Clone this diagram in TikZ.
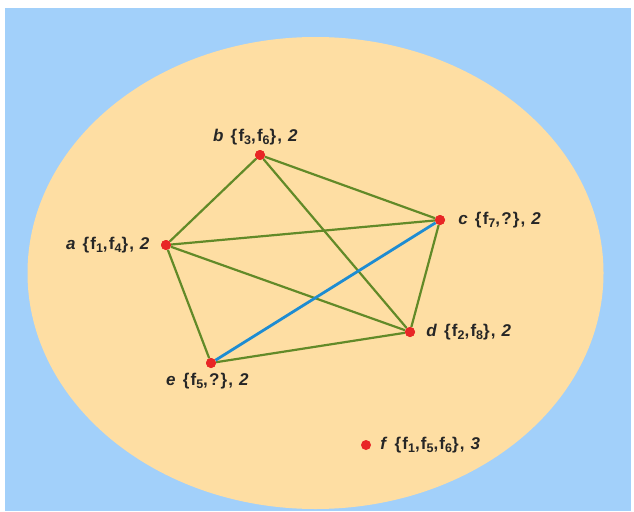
\documentclass[tikz,border=0pt]{standalone}
\usepackage{fontspec}
\setmainfont{Liberation Sans}
\newfontfamily\labelfont[LetterSpace=7]{Liberation Sans}
\usepackage{tikz}
\usetikzlibrary{positioning}
\definecolor{bgblue}{RGB}{162,208,250}
\definecolor{discfill}{RGB}{254,222,163}
\definecolor{edgegreen}{RGB}{98,138,40}
\definecolor{edgeblue}{RGB}{30,140,210}
\definecolor{dotred}{RGB}{232,38,38}
% feature f with index
\newcommand{\feat}[1]{f\raisebox{-0.35ex}{\fontsize{12.5}{13}\selectfont #1}}

\begin{document}
\begin{tikzpicture}[x=1pt, y=-1pt,
    vert/.style={circle, fill=dotred, inner sep=0pt, minimum size=10pt},
    every label/.style={font=\labelfont\bfseries\fontsize{17}{19}\selectfont, text=black!85, inner sep=1pt},
    conflict/.style={edgegreen, line width=2.2pt},
    chosen/.style={edgeblue, line width=2.8pt}]
        \useasboundingbox (0,0) rectangle (634,511);
        \fill[bgblue] (5,8) rectangle (631,511);

        % the disc
        \begin{scope}
          \clip (5,8) rectangle (631,511);
          \fill[discfill] (315.5,273) ellipse [x radius=288, y radius=236];
        \end{scope}

        % vertices
        \node[vert, label={[yshift=4pt, xshift=-4pt]above:\textit{b} \{\feat{3},\feat{6}\}, \textit{2}}] (b) at (260,155) {};
        \node[vert, label={[xshift=-9pt]left:\textit{a} \{\feat{1},\feat{4}\}, \textit{2}}] (a) at (166,245) {};
        \node[vert, label={[xshift=12pt]right:\textit{c} \{\feat{7},?\}, \textit{2}}] (c) at (440,220) {};
        \node[vert, label={[xshift=10pt]right:\textit{d} \{\feat{2},\feat{8}\}, \textit{2}}] (d) at (410,332) {};
        \node[vert, label={[yshift=-4pt, xshift=-3pt]below:\textit{e} \{\feat{5},?\}, \textit{2}}] (e) at (211,363) {};
        \node[vert, label={[xshift=8pt]right:\textit{f} \{\feat{1},\feat{5},\feat{6}\}, \textit{3}}] (f) at (366,445) {};

        % conflict edges
        \foreach \u/\v in {a/b, b/c, b/d, a/c, a/d, a/e, e/d, c/d}
          \draw[conflict] (\u) -- (\v);
        \draw[chosen] (e) -- (c);

        % dots on top
        \foreach \n in {a,b,c,d,e}
          \fill[dotred] (\n) circle (5pt);
\end{tikzpicture}
\end{document}
